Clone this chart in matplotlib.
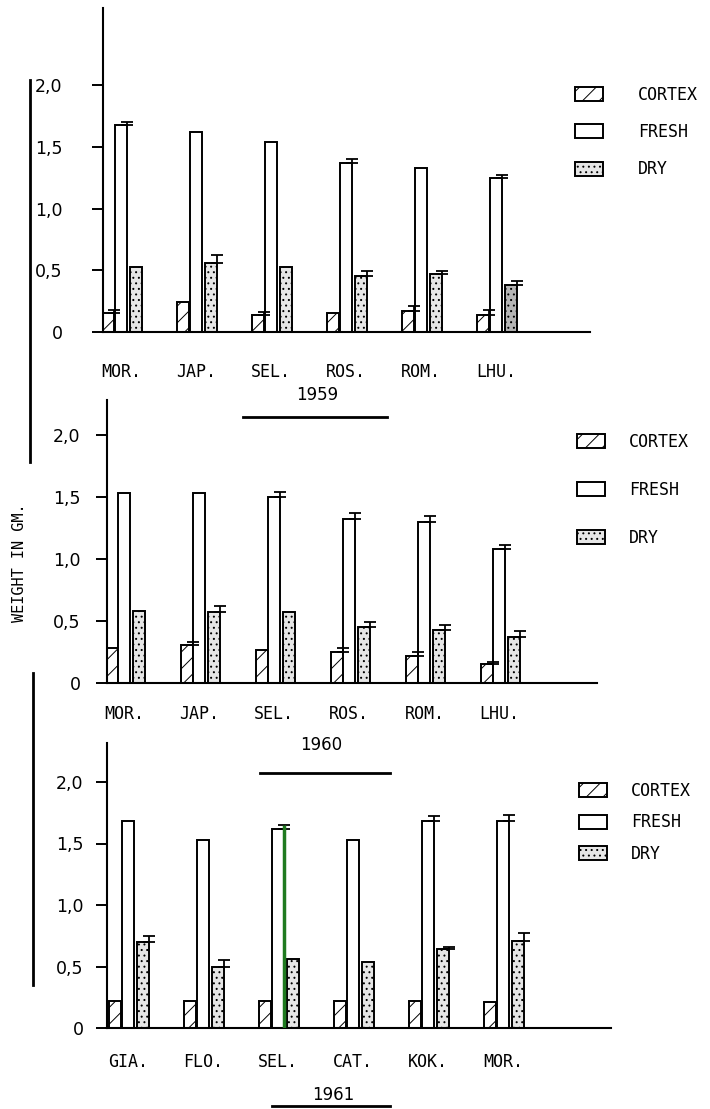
import numpy as np
import matplotlib.pyplot as plt
from matplotlib.lines import Line2D

# datos (peso en gramos)
series = ['CORTEX', 'FRESH', 'DRY']

cats_1959 = ['MOR.', 'JAP.', 'SEL.', 'ROS.', 'ROM.', 'LHU.']
cortex_1959 = [0.15, 0.24, 0.14, 0.15, 0.17, 0.14]
fresh_1959 = [1.68, 1.62, 1.54, 1.37, 1.33, 1.25]
dry_1959 = [0.53, 0.56, 0.53, 0.45, 0.47, 0.38]
err_cortex_1959 = [0.03, 0.0, 0.02, 0.0, 0.04, 0.04]
err_fresh_1959 = [0.02, 0.0, 0.0, 0.03, 0.0, 0.02]
err_dry_1959 = [0.0, 0.06, 0.0, 0.04, 0.02, 0.03]

cats_1960 = ['MOR.', 'JAP.', 'SEL.', 'ROS.', 'ROM.', 'LHU.']
cortex_1960 = [0.28, 0.31, 0.27, 0.25, 0.22, 0.15]
fresh_1960 = [1.53, 1.53, 1.50, 1.32, 1.30, 1.08]
dry_1960 = [0.58, 0.57, 0.57, 0.45, 0.43, 0.37]
err_cortex_1960 = [0.0, 0.02, 0.0, 0.03, 0.03, 0.02]
err_fresh_1960 = [0.0, 0.0, 0.04, 0.05, 0.05, 0.03]
err_dry_1960 = [0.0, 0.05, 0.0, 0.04, 0.04, 0.05]

cats_1961 = ['GIA.', 'FLO.', 'SEL.', 'CAT.', 'KOK.', 'MOR.']
cortex_1961 = [0.22, 0.22, 0.22, 0.22, 0.22, 0.21]
fresh_1961 = [1.68, 1.53, 1.62, 1.53, 1.68, 1.68]
dry_1961 = [0.70, 0.50, 0.56, 0.54, 0.64, 0.71]
err_cortex_1961 = [0.0, 0.0, 0.0, 0.0, 0.0, 0.0]
err_fresh_1961 = [0.0, 0.0, 0.03, 0.0, 0.04, 0.05]
err_dry_1961 = [0.05, 0.05, 0.0, 0.0, 0.02, 0.06]

ytick_vals = [0, 0.5, 1.0, 1.5, 2.0]
ytick_labels = ['0', '0,5', '1,0', '1,5', '2,0']

W, H = 710, 1109
mono = 'DejaVu Sans Mono'
plt.rcParams['hatch.linewidth'] = 0.7

fig = plt.figure(figsize=(W / 100, H / 100), dpi=100)

ancho = 0.16
off_cortex = -0.17
off_dry = 0.20


def ejes(left, right, zero, top, ppu):
    ax = fig.add_axes([left / W, 1 - zero / H, (right - left) / W, (zero - top) / H])
    ax.set_ylim(0, (zero - top) / ppu)
    return ax


def barras(ax, cats, cortex, fresh, dry, ecor, efre, edry, xlim, ypad, xpad, leyenda):
    pos = np.arange(len(cats))
    b1 = ax.bar(pos + off_cortex, cortex, ancho, facecolor='white', edgecolor='black',
                hatch='//', linewidth=1.4, label=series[0])
    b2 = ax.bar(pos, fresh, ancho, facecolor='white', edgecolor='black',
                linewidth=1.4, label=series[1])
    b3 = ax.bar(pos + off_dry, dry, ancho, facecolor='#e6e6e6', edgecolor='black',
                hatch='...', linewidth=1.4, label=series[2])
    # marcas de error (solo hacia arriba) en el borde derecho de cada barra
    for off, vals, errs in [(off_cortex, cortex, ecor), (0, fresh, efre), (off_dry, dry, edry)]:
        vals = np.array(vals)
        errs = np.array(errs)
        m = errs > 0
        if m.any():
            ax.errorbar(pos[m] + off + ancho / 2, vals[m],
                        yerr=[np.zeros(m.sum()), errs[m]], fmt='none',
                        ecolor='black', elinewidth=1.3, capsize=4, capthick=1.3)
    ax.set_xlim(*xlim)
    ax.set_xticks(pos)
    ax.set_xticklabels(cats, family=mono, fontsize=12)
    ax.tick_params(axis='x', length=0, pad=xpad)
    ax.set_yticks(ytick_vals)
    ax.set_yticklabels(ytick_labels, fontsize=12.5)
    ax.tick_params(axis='y', length=8, width=1.4, direction='out', pad=ypad)
    for s in ['top', 'right']:
        ax.spines[s].set_visible(False)
    ax.spines['left'].set_linewidth(1.5)
    ax.spines['bottom'].set_linewidth(1.5)
    lx, ly, tpad, lsp = leyenda
    ax.legend(handles=[b1, b2, b3], loc='upper left', bbox_to_anchor=(lx / W, 1 - ly / H),
              bbox_transform=fig.transFigure, frameon=False, prop={'family': mono, 'size': 12},
              handlelength=1.7, handleheight=0.9, handletextpad=tpad, labelspacing=lsp,
              borderpad=0, borderaxespad=0)
    return pos


ax1 = ejes(103, 590, 332, 8, 123.5)
barras(ax1, cats_1959, cortex_1959, fresh_1959, dry_1959,
       err_cortex_1959, err_fresh_1959, err_dry_1959,
       (-0.24, 6.25), 21, 22, (575, 86, 2.1, 1.15))
ax1.patches[17].set_facecolor('#b5b5b5')

ax2 = ejes(107, 597, 683, 400, 124)
barras(ax2, cats_1960, cortex_1960, fresh_1960, dry_1960,
       err_cortex_1960, err_fresh_1960, err_dry_1960,
       (-0.23, 6.3), 11, 16, (577, 433, 1.4, 1.8))

ax3 = ejes(107, 611, 1028, 743, 123)
pos3 = barras(ax3, cats_1961, cortex_1961, fresh_1961, dry_1961,
              err_cortex_1961, err_fresh_1961, err_dry_1961,
              (-0.28, 6.44), 9, 18, (579, 782, 1.4, 0.8))
# linea verde sobre el borde de SEL. (marca del original)
ax3.vlines(pos3[2] + ancho / 2, 0, fresh_1961[2] + 0.03, color='#1f7a1f', linewidth=2.5, zorder=5)

# anos subrayados
for txt, cx, cy, x0, x1, uy in [('1959', 317, 395, 243, 387, 417),
                                 ('1960', 321, 745, 260, 390, 773),
                                 ('1961', 333, 1095, 272, 390, 1106)]:
    fig.text(cx / W, 1 - cy / H, txt, ha='center', va='center', fontsize=12)
    fig.add_artist(Line2D([x0 / W, x1 / W], [1 - uy / H, 1 - uy / H], color='black', linewidth=2))

# lineas verticales a la izquierda
fig.add_artist(Line2D([30 / W, 30 / W], [1 - 80 / H, 1 - 462 / H], color='black', linewidth=2))
fig.add_artist(Line2D([33 / W, 33 / W], [1 - 673 / H, 1 - 985 / H], color='black', linewidth=2))

fig.text(20 / W, 1 - 563 / H, 'WEIGHT IN GM.', rotation=90, ha='center', va='center',
         family=mono, fontsize=11)

fig.savefig('out.png', dpi=100)
